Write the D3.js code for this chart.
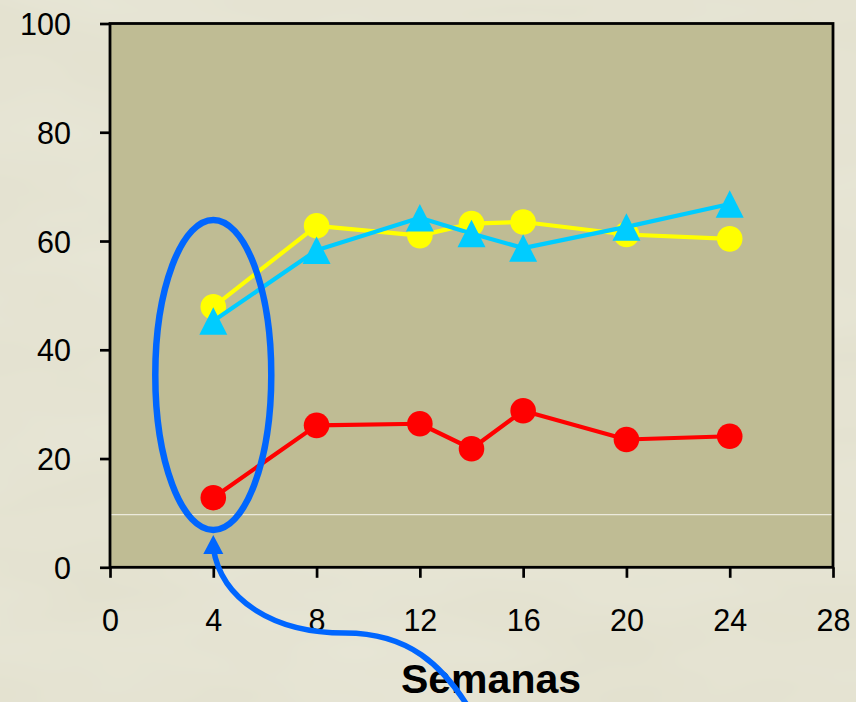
<!DOCTYPE html>
<html>
<head>
<meta charset="utf-8">
<script src="https://cdn.jsdelivr.net/npm/d3@7"></script>
<style>
  html, body { margin: 0; padding: 0; background: #E3E1CF; }
  svg { display: block; }
  text { font-family: "Liberation Sans", Arial, sans-serif; fill: #000; }
</style>
</head>
<body>
<svg id="chart" width="856" height="702"></svg>
<script>
// Weeks of follow-up
const weeks = [4, 8, 12, 14, 16, 20, 24];
// Series values (%)
const redSeries = [12.8, 26.1, 26.4, 21.8, 28.8, 23.5, 24.1];
const yellowSeries = [47.9, 62.8, 61.0, 63.2, 63.5, 61.2, 60.4];
const cyanSeries = [45.3, 58.3, 64.3, 61.4, 58.7, 62.6, 66.8];
// Axis ticks
const xTicks = [0, 4, 8, 12, 16, 20, 24, 28];
const yTicks = [0, 20, 40, 60, 80, 100];
const xLabel = "Semanas";
const guideValue = 9.7;
const highlightWeek = 4;

const svg = d3.select("#chart");
const W = 856, H = 702;
const L = 110, R = 833, T = 23.5, B = 567.3;

// subtle marbled page background
const defs = svg.append("defs");
const f = defs.append("filter").attr("id", "marble")
  .attr("x", 0).attr("y", 0).attr("width", "100%").attr("height", "100%");
f.append("feTurbulence").attr("type", "fractalNoise")
  .attr("baseFrequency", "0.004 0.012").attr("numOctaves", 3).attr("seed", 7);
f.append("feColorMatrix").attr("type", "matrix")
  .attr("values", "0 0 0 0 1  0 0 0 0 1  0 0 0 0 0.97  0 0 0 0.22 -0.04");
svg.append("rect").attr("width", W).attr("height", H).attr("fill", "#E3E1CF");
svg.append("rect").attr("width", W).attr("height", H).attr("filter", "url(#marble)");

const x = d3.scaleLinear().domain([0, 28]).range([L, R]);
const y = d3.scaleLinear().domain([0, 100]).range([B, T]);

// plot area
svg.append("rect").attr("x", L).attr("y", T).attr("width", R - L).attr("height", B - T)
  .attr("fill", "#BFBC94");

// faint guide line
svg.append("line").attr("x1", L).attr("x2", R)
  .attr("y1", y(guideValue)).attr("y2", y(guideValue))
  .attr("stroke", "#ECEADC").attr("stroke-width", 1.2);

// axes
const yAxis = d3.axisLeft(y).tickValues(yTicks).tickSize(10).tickPadding(29);
const gy = svg.append("g").attr("transform", `translate(${L},0)`).call(yAxis);
const xAxis = d3.axisBottom(x).tickValues(xTicks).tickSize(10.5).tickPadding(32);
const gx = svg.append("g").attr("transform", `translate(0,${B})`).call(xAxis);
[gx, gy].forEach(g => {
  g.select(".domain").remove();
  g.selectAll(".tick line").attr("stroke", "#000").attr("stroke-width", 2.7);
  g.selectAll(".tick text").style("font-size", "30.5px").attr("fill", "#000")
    .style("font-family", '"Liberation Sans", Arial, sans-serif');
});
gy.selectAll(".tick text").attr("dy", "0.36em");

// frame
svg.append("rect").attr("x", L).attr("y", T).attr("width", R - L).attr("height", B - T)
  .attr("fill", "none").attr("stroke", "#000").attr("stroke-width", 2.8);

const line = d3.line().x(d => x(d[0])).y(d => y(d[1]));
const pairs = vals => weeks.map((w, i) => [w, vals[i]]);

function drawCircles(vals, color) {
  svg.append("path").datum(pairs(vals)).attr("d", line)
    .attr("fill", "none").attr("stroke", color).attr("stroke-width", 4.2)
    .attr("stroke-linejoin", "round");
  svg.append("g").selectAll("circle").data(pairs(vals)).join("circle")
    .attr("cx", d => x(d[0])).attr("cy", d => y(d[1])).attr("r", 12.8)
    .attr("fill", color);
}
function drawTriangles(vals, color) {
  svg.append("path").datum(pairs(vals)).attr("d", line)
    .attr("fill", "none").attr("stroke", color).attr("stroke-width", 4.2)
    .attr("stroke-linejoin", "round");
  const half = 14, h = 27.5;
  svg.append("g").selectAll("path").data(pairs(vals)).join("path")
    .attr("d", d => {
      const cx = x(d[0]), cy = y(d[1]);
      return `M${cx},${cy - h / 2}L${cx + half},${cy + h / 2}L${cx - half},${cy + h / 2}Z`;
    })
    .attr("fill", color);
}

drawCircles(redSeries, "#FF0000");
drawCircles(yellowSeries, "#FFFF00");
drawTriangles(cyanSeries, "#00CCFF");

// x-axis title
svg.append("text").attr("x", 491).attr("y", 693).attr("text-anchor", "middle")
  .style("font-size", "41px").style("font-weight", "bold").text(xLabel);

// highlight around the first week
const hx = x(highlightWeek);
svg.append("ellipse").attr("cx", hx).attr("cy", 375).attr("rx", 58).attr("ry", 155)
  .attr("fill", "none").attr("stroke", "#0066FF").attr("stroke-width", 6.5);

// curved pointer
svg.append("path")
  .attr("d", `M${hx},548 C${hx + 8},600 ${hx + 60},633 ${hx + 132},633 C${hx + 195},633 ${hx + 230},665 ${hx + 258},712`)
  .attr("fill", "none").attr("stroke", "#0066FF").attr("stroke-width", 5.5);
svg.append("path")
  .attr("d", `M${hx},535 L${hx + 10},554 L${hx - 10},554 Z`)
  .attr("fill", "#0066FF");
</script>
</body>
</html>
